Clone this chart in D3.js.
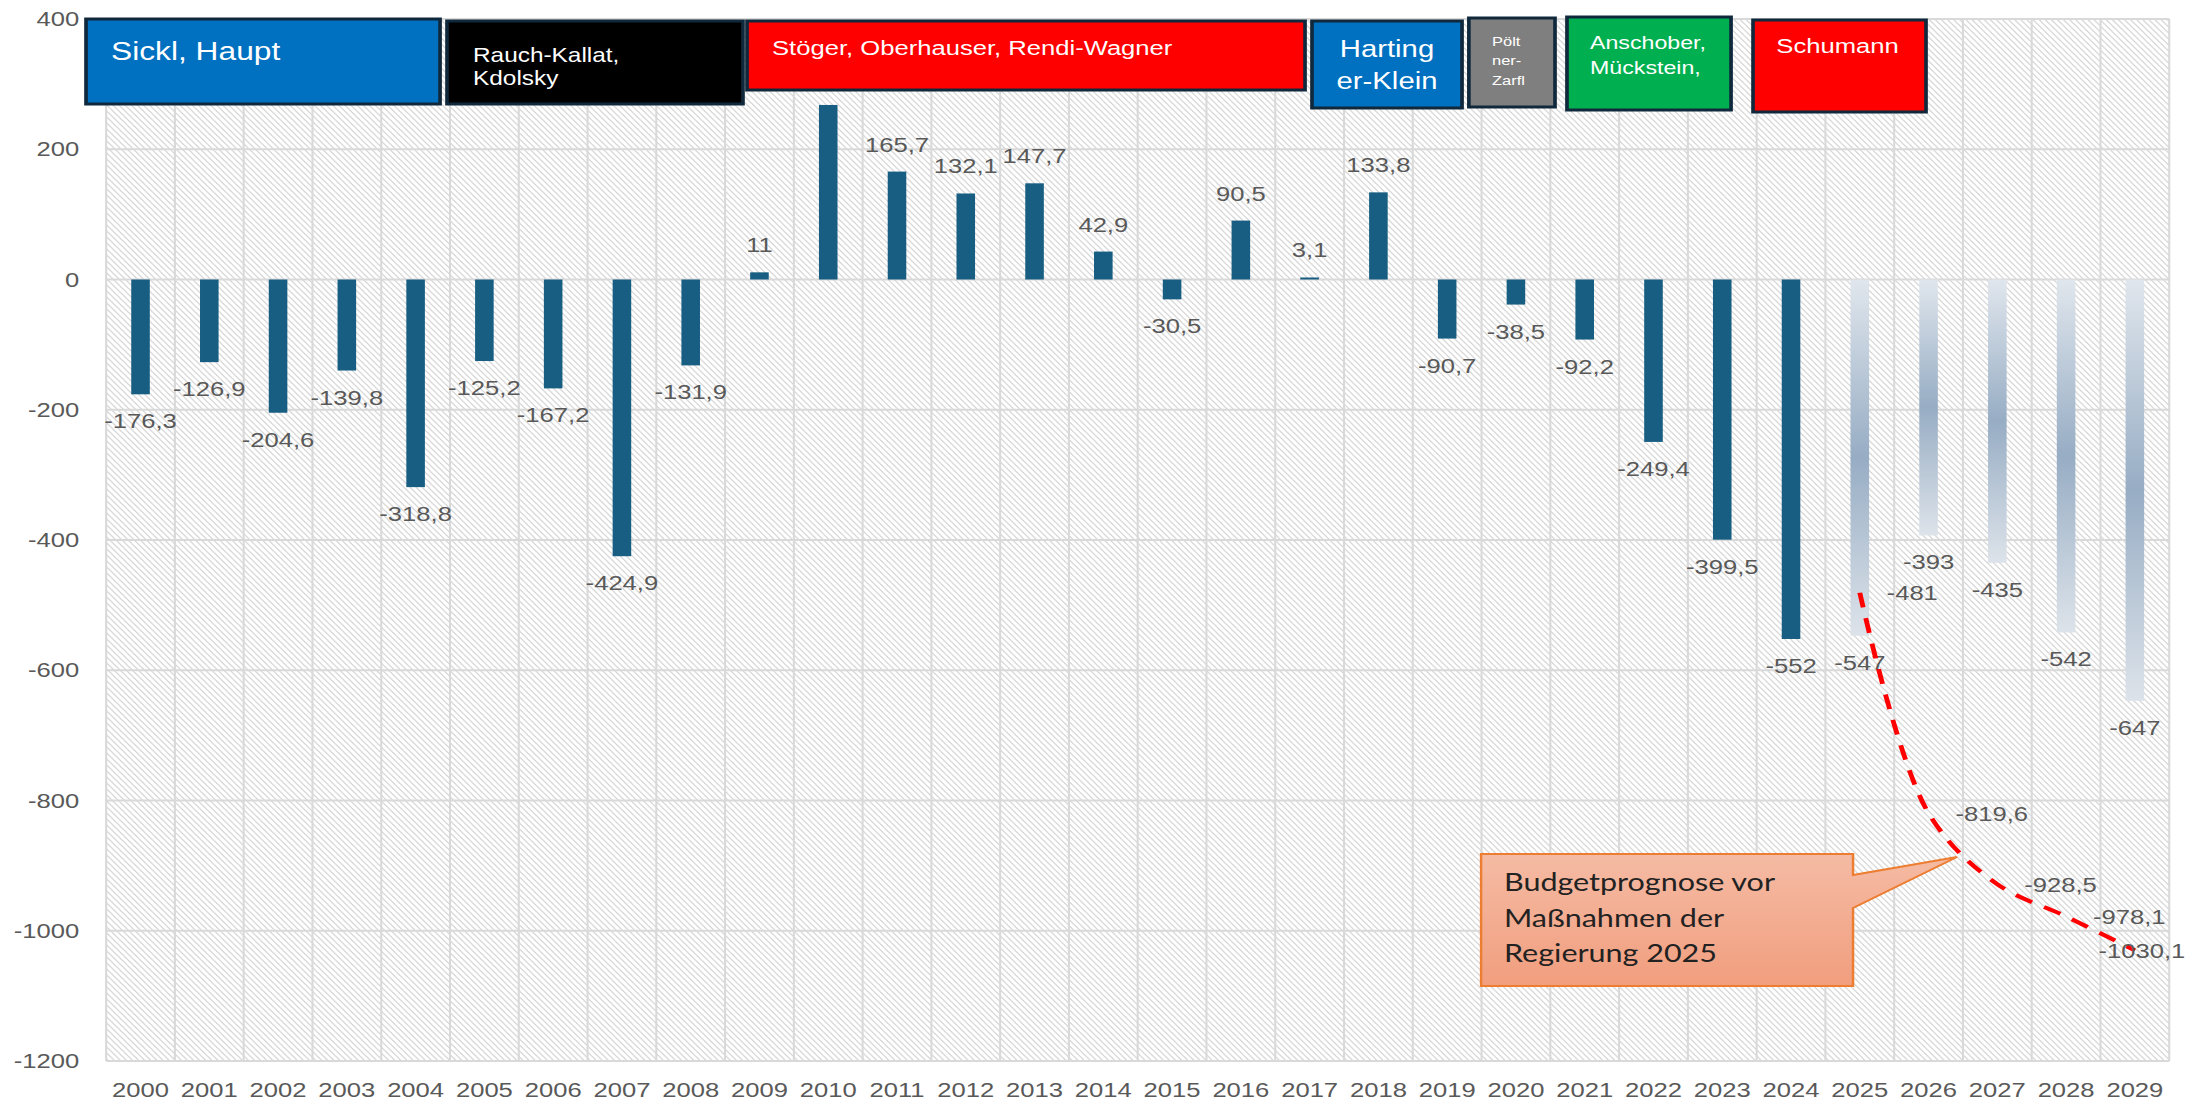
<!DOCTYPE html>
<html>
<head>
<meta charset="utf-8">
<script src="https://cdn.jsdelivr.net/npm/d3@7"></script>
<style>
  body { margin: 0; background: #fff; }
  svg { display: block; }
</style>
</head>
<body>
<div class="budget-chart"></div>
<script>

// ---- data ----
const years = ["2000", "2001", "2002", "2003", "2004", "2005", "2006", "2007", "2008", "2009",
               "2010", "2011", "2012", "2013", "2014", "2015", "2016", "2017", "2018", "2019",
               "2020", "2021", "2022", "2023", "2024", "2025", "2026", "2027", "2028", "2029"];

// Gebarungserfolg 2000-2024 (Mio. EUR)
const balance = [-176.3, -126.9, -204.6, -139.8, -318.8, -125.2, -167.2, -424.9, -131.9, 11,
                 268, 165.7, 132.1, 147.7, 42.9, -30.5, 90.5, 3.1, 133.8, -90.7,
                 -38.5, -92.2, -249.4, -399.5, -552];

// Prognose 2025-2029
const forecastYears = ["2025", "2026", "2027", "2028", "2029"];
const forecast = [-547, -393, -435, -542, -647];

// Budgetprognose vor Massnahmen der Regierung 2025 (red dashed line)
const prognosis = [-481, -819.6, -928.5, -978.1, -1030.1];

const yTicks = [400, 200, 0, -200, -400, -600, -800, -1000, -1200];

const ministers = [
    ["Sickl, Haupt"],
    ["Rauch-Kallat,", "Kdolsky"],
    ["Stöger, Oberhauser, Rendi-Wagner"],
    ["Harting", "er-Klein"],
    ["Pölt", "ner-", "Zarfl"],
    ["Anschober,", "Mückstein,"],
    ["Schumann"]
];

const calloutText = ["Budgetprognose vor", "Maßnahmen der", "Regierung 2025"];

// ---- layout ----
const SX = 1.22;                 // the original picture is stretched horizontally
const width = 2200, height = 1104;
const W = width / SX;
const margin = {top: 19, right: 25.2, bottom: 43, left: 87};

const barColor = "#175e82";
const gridColor = "#d9d9d9";
const textColor = "#595959";
const labelFont = "'Liberation Sans', Arial, sans-serif";

const boxLayout = [
    {x0: 70.5,   x1: 360.7,  y0: 19, y1: 104, fill: "#0070c0", size: 26,   tx: 91,     ty: [60]},
    {x0: 366.4,  x1: 609,    y0: 21, y1: 104, fill: "#000000", size: 20,   tx: 387.7,  ty: [62, 85]},
    {x0: 612.3,  x1: 1069.7, y0: 21, y1: 90,  fill: "#ff0000", size: 21,   tx: 632.8,  ty: [55]},
    {x0: 1075.4, x1: 1198.4, y0: 21, y1: 108, fill: "#0070c0", size: 24,   tx: 1136.9, ty: [57, 89], anchor: "middle"},
    {x0: 1204,   x1: 1274.6, y0: 18, y1: 107, fill: "#7f7f7f", size: 13.5, tx: 1223,   ty: [46, 65, 85]},
    {x0: 1284.4, x1: 1418.9, y0: 17, y1: 110, fill: "#00b050", size: 19,   tx: 1303.3, ty: [49, 74]},
    {x0: 1436.9, x1: 1578.7, y0: 20, y1: 112, fill: "#ff0000", size: 21,   tx: 1456,   ty: [53]}
];

const fmt = d => String(d).replace(".", ",");

// ---- scales ----
const x = d3.scaleBand()
    .domain(years)
    .range([margin.left, W - margin.right])
    .paddingInner(0.73)
    .paddingOuter(0.365);

const y = d3.scaleLinear()
    .domain([-1200, 400])
    .range([height - margin.bottom, margin.top]);

const cx = d => x(d) + x.bandwidth() / 2;

const svg = d3.select(".budget-chart").append("svg")
    .attr("width", width)
    .attr("height", height)
    .attr("viewBox", `0 0 ${W} ${height}`)
    .attr("preserveAspectRatio", "none");

const defs = svg.append("defs");

// hatched plot background
const hatch = defs.append("pattern")
    .attr("id", "hatch")
    .attr("patternUnits", "userSpaceOnUse")
    .attr("width", 5)
    .attr("height", 6);
hatch.append("rect").attr("width", 5).attr("height", 6).attr("fill", "#ffffff");
hatch.append("path")
    .attr("d", "M-1,-1.2 L6,7.2 M-6,-1.2 L1,7.2 M4,-1.2 L11,7.2")
    .attr("stroke", "#d2d2d2")
    .attr("stroke-width", 1.05);

const fade = defs.append("linearGradient")
    .attr("id", "forecastFill")
    .attr("x1", 0).attr("y1", 0).attr("x2", 0).attr("y2", 1);
fade.append("stop").attr("offset", 0).attr("stop-color", "#e0e6ed");
fade.append("stop").attr("offset", 0.5).attr("stop-color", "#97adc4");
fade.append("stop").attr("offset", 1).attr("stop-color", "#dde3ea");

const calloutFill = defs.append("linearGradient")
    .attr("id", "calloutFill")
    .attr("x1", 0).attr("y1", 0).attr("x2", 0).attr("y2", 1);
calloutFill.append("stop").attr("offset", 0).attr("stop-color", "#f5bba4");
calloutFill.append("stop").attr("offset", 1).attr("stop-color", "#f19e7e");

svg.append("rect")
    .attr("x", margin.left)
    .attr("y", margin.top)
    .attr("width", W - margin.left - margin.right)
    .attr("height", height - margin.top - margin.bottom)
    .attr("fill", "url(#hatch)");

// grid
svg.append("g")
    .selectAll("line")
    .data(yTicks)
    .join("line")
    .attr("x1", margin.left)
    .attr("x2", W - margin.right)
    .attr("y1", d => y(d))
    .attr("y2", d => y(d))
    .attr("stroke", gridColor)
    .attr("stroke-width", 2);

svg.append("g")
    .selectAll("line")
    .data(d3.range(years.length + 1))
    .join("line")
    .attr("x1", i => margin.left + i * x.step())
    .attr("x2", i => margin.left + i * x.step())
    .attr("y1", margin.top)
    .attr("y2", height - margin.bottom)
    .attr("stroke", gridColor)
    .attr("stroke-width", 1.7);

// axes
const yAxis = g => g
    .attr("transform", `translate(${margin.left - 22},0)`)
    .call(d3.axisLeft(y).tickValues(yTicks).tickFormat(d => String(d)).tickSize(0).tickPadding(0))
    .call(g => g.select(".domain").remove())
    .call(g => g.selectAll("text")
        .attr("fill", textColor)
        .attr("font-family", labelFont)
        .attr("font-size", 21));

const xAxis = g => g
    .attr("transform", `translate(0,${height - margin.bottom})`)
    .call(d3.axisBottom(x).tickSize(0).tickPadding(0))
    .call(g => g.select(".domain").remove())
    .call(g => g.selectAll("text")
        .attr("y", 36)
        .attr("dy", 0)
        .attr("fill", textColor)
        .attr("font-family", labelFont)
        .attr("font-size", 21));

svg.append("g").call(yAxis);
svg.append("g").call(xAxis);

// bars
const actual = balance.map((v, i) => ({year: years[i], value: v}));
const future = forecast.map((v, i) => ({year: forecastYears[i], value: v}));

svg.append("g")
    .selectAll("rect")
    .data(actual)
    .join("rect")
    .attr("x", d => x(d.year))
    .attr("y", d => y(Math.max(0, d.value)))
    .attr("width", x.bandwidth())
    .attr("height", d => Math.abs(y(d.value) - y(0)))
    .attr("fill", barColor);

svg.append("g")
    .selectAll("rect")
    .data(future)
    .join("rect")
    .attr("x", d => x(d.year))
    .attr("y", y(0))
    .attr("width", x.bandwidth())
    .attr("height", d => y(d.value) - y(0))
    .attr("fill", "url(#forecastFill)");

svg.append("g")
    .selectAll("text")
    .data(actual.concat(future))
    .join("text")
    .attr("x", d => cx(d.year))
    .attr("y", d => d.value < 0 ? y(d.value) + 34 : y(d.value) - 20)
    .attr("text-anchor", "middle")
    .attr("fill", textColor)
    .attr("font-family", labelFont)
    .attr("font-size", 21)
    .text(d => fmt(d.value));

// prognosis line
const progData = prognosis.map((v, i) => ({year: forecastYears[i], value: v}));

const progLine = d3.line()
    .x(d => cx(d.year))
    .y(d => y(d.value))
    .curve(d3.curveCatmullRom.alpha(0.5));

svg.append("path")
    .datum(progData)
    .attr("fill", "none")
    .attr("stroke", "#ff0000")
    .attr("stroke-width", 4)
    .attr("stroke-dasharray", "15,11")
    .attr("d", progLine);

svg.append("g")
    .selectAll("text")
    .data(progData)
    .join("text")
    .attr("x", d => cx(d.year) + 22)
    .attr("y", d => y(d.value))
    .attr("dy", "0.35em")
    .attr("fill", textColor)
    .attr("font-family", labelFont)
    .attr("font-size", 21)
    .text(d => fmt(d.value))
    .each(function() {
        // keep labels inside the chart, like Excel does
        const len = this.getComputedTextLength();
        const x0 = +this.getAttribute("x");
        if (x0 + len > W - 12) this.setAttribute("x", W - 12 - len);
    });

// minister boxes
const boxes = svg.append("g")
    .selectAll("g")
    .data(boxLayout)
    .join("g");

boxes.append("rect")
    .attr("x", d => d.x0)
    .attr("y", d => d.y0)
    .attr("width", d => d.x1 - d.x0)
    .attr("height", d => d.y1 - d.y0)
    .attr("fill", d => d.fill)
    .attr("stroke", "#10283c")
    .attr("stroke-width", 3);

boxes.each(function(d, i) {
    d3.select(this).selectAll("text")
        .data(ministers[i])
        .join("text")
        .attr("x", d.tx)
        .attr("y", (t, j) => d.ty[j])
        .attr("text-anchor", d.anchor || "start")
        .attr("fill", "#ffffff")
        .attr("font-family", labelFont)
        .attr("font-size", d.size)
        .text(t => t);
});

// callout
const callout = {x0: 1214, x1: 1518.9, y0: 854, y1: 986, b0: 875, b1: 908, tipX: 1604.1, tipY: 857};

svg.append("path")
    .attr("d", `M${callout.x0},${callout.y0} H${callout.x1} V${callout.b0} L${callout.tipX},${callout.tipY}
                L${callout.x1},${callout.b1} V${callout.y1} H${callout.x0} Z`)
    .attr("fill", "url(#calloutFill)")
    .attr("stroke", "#ed7d31")
    .attr("stroke-width", 2);

svg.append("g")
    .selectAll("text")
    .data(calloutText)
    .join("text")
    .attr("x", 1232.8)
    .attr("y", (d, i) => [891, 927, 962][i])
    .attr("fill", "#222222")
    .attr("font-family", "Lato, 'Liberation Sans', sans-serif")
    .attr("font-size", 25)
    .text(d => d);

</script>
</body>
</html>
